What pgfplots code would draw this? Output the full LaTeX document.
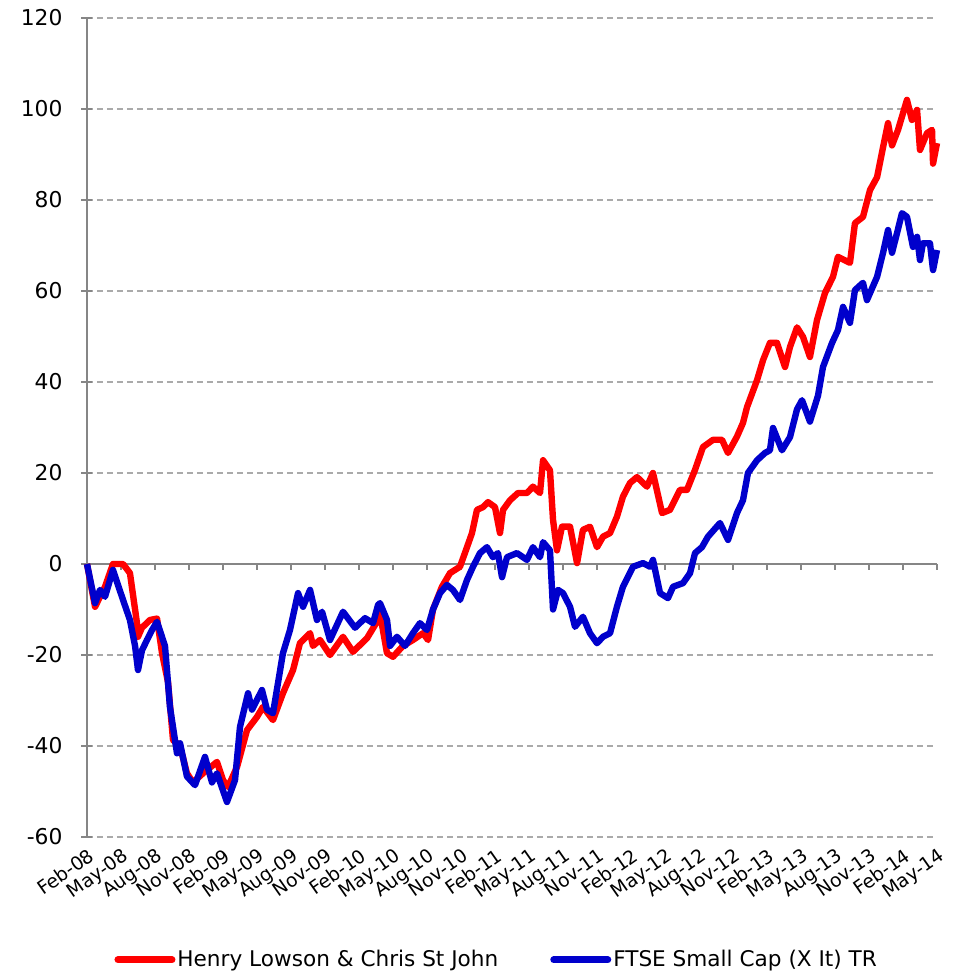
\documentclass[border=0pt]{standalone}
\usepackage{pgfplots}
\pgfplotsset{compat=1.18}
\usepackage{fontspec}
\setmainfont{DejaVu Sans}
\definecolor{myred}{RGB}{255,0,0}
\definecolor{myblue}{RGB}{0,0,204}
\definecolor{gridgray}{RGB}{170,170,170}
\definecolor{axgray}{RGB}{134,134,134}
\begin{document}
\begin{tikzpicture}
\begin{axis}[
  scale only axis, width=425pt, height=409.5pt,
  xmin=0, xmax=75, ymin=-60, ymax=120,
  axis lines*=left,
  x axis line style={draw=none},
  y axis line style={axgray, line width=0.8pt},
  xtick={0,3,...,75},
  xticklabels={Feb-08,May-08,Aug-08,Nov-08,Feb-09,May-09,Aug-09,Nov-09,Feb-10,May-10,Aug-10,Nov-10,Feb-11,May-11,Aug-11,Nov-11,Feb-12,May-12,Aug-12,Nov-12,Feb-13,May-13,Aug-13,Nov-13,Feb-14,May-14},
  xtick style={draw=none},
  xticklabel style={rotate=35, anchor=north east, font=\fontsize{9.4}{11}\selectfont, inner sep=1pt, yshift=-1pt},
  ytick={-60,-40,...,120},
  ytick style={axgray, line width=0.8pt},
  tick align=center, major tick length=5.5pt,
  yticklabel style={font=\fontsize{10.9}{12}\selectfont, xshift=-6pt},
  /pgf/number format/assume math mode=true,
  ymajorgrids,
  grid style={gridgray, dash pattern=on 3pt off 2pt, line width=0.7pt},
  legend columns=2,
  legend style={at={(0.482,-0.150)}, anchor=center, draw=none, font=\fontsize{10.8}{12}\selectfont,
    nodes={inner xsep=1pt},
    /tikz/every even column/.append style={column sep=25pt}, inner sep=0pt},
  legend image code/.code={\draw[#1, line width=3.5pt, line cap=round] (0pt,0pt) -- (27pt,0pt);},
  clip=false,
]
\draw[axgray, line width=0.8pt] (axis cs:0,0) -- (axis cs:75,0);
\draw[axgray, line width=0.8pt] (axis cs:3,0) -- (axis cs:3,-1.3) (axis cs:6,0) -- (axis cs:6,-1.3)
 (axis cs:9,0) -- (axis cs:9,-1.3) (axis cs:12,0) -- (axis cs:12,-1.3) (axis cs:15,0) -- (axis cs:15,-1.3)
 (axis cs:18,0) -- (axis cs:18,-1.3) (axis cs:21,0) -- (axis cs:21,-1.3) (axis cs:24,0) -- (axis cs:24,-1.3)
 (axis cs:27,0) -- (axis cs:27,-1.3) (axis cs:30,0) -- (axis cs:30,-1.3) (axis cs:33,0) -- (axis cs:33,-1.3)
 (axis cs:36,0) -- (axis cs:36,-1.3) (axis cs:39,0) -- (axis cs:39,-1.3) (axis cs:42,0) -- (axis cs:42,-1.3)
 (axis cs:45,0) -- (axis cs:45,-1.3) (axis cs:48,0) -- (axis cs:48,-1.3) (axis cs:51,0) -- (axis cs:51,-1.3)
 (axis cs:54,0) -- (axis cs:54,-1.3) (axis cs:57,0) -- (axis cs:57,-1.3) (axis cs:60,0) -- (axis cs:60,-1.3)
 (axis cs:63,0) -- (axis cs:63,-1.3) (axis cs:66,0) -- (axis cs:66,-1.3) (axis cs:69,0) -- (axis cs:69,-1.3)
 (axis cs:72,0) -- (axis cs:72,-1.3) (axis cs:75,0) -- (axis cs:75,-1.3);
\addplot[myred, line width=3.2pt, line join=round] coordinates {
(0,0) (0.71,-9.4) (1.59,-5) (2.29,0) (3.18,0) (3.79,-2) (4.41,-13) (4.50,-16) (4.85,-14)
(5.56,-12.3) (6.18,-12) (6.62,-19.6) (7.15,-26) (7.59,-38.7) (8.21,-40) (8.82,-46) (9.35,-48)
(10.24,-46) (11.47,-43.5) (12.00,-47.5) (12.44,-49) (13.24,-44.6) (14.12,-36.5) (15.00,-33.6)
(15.53,-31.4) (16.41,-34.3) (17.29,-28.4) (18.18,-23.3) (18.79,-17.4) (19.68,-15.2) (19.94,-18)
(20.56,-16.7) (21.44,-20) (22.59,-16) (23.47,-19.3) (24.71,-16.3) (25.68,-12.3) (25.85,-10.8)
(26.47,-19.6) (27.00,-20.4) (27.88,-18) (28.76,-16.7) (29.65,-15.2) (30.09,-16.7) (30.53,-10)
(31.32,-5) (32.03,-2) (32.91,-0.6) (33.53,3.7) (33.97,6.8) (34.41,11.9) (34.94,12.5) (35.38,13.6)
(36.00,12.5) (36.44,6.8) (36.71,11.9) (37.32,14) (38.03,15.6) (38.82,15.6) (39.35,17) (39.97,15.6)
(40.24,22.8) (40.85,20.6) (41.12,9.7) (41.47,3) (41.91,8.2) (42.62,8.2) (43.24,0.2) (43.76,7.5)
(44.38,8.2) (45.00,3.7) (45.53,6) (46.15,6.8) (46.76,10.4) (47.29,14.8) (47.91,17.8) (48.53,19.1)
(49.41,17) (49.94,20) (50.74,11.2) (51.44,11.9) (52.32,16.3) (52.94,16.3) (53.65,20.7) (54.35,25.7)
(55.24,27.3) (56.03,27.3) (56.56,24.4) (57.35,28) (57.88,31) (58.24,34.5) (59.12,40.4) (59.65,44.8)
(60.26,48.6) (60.88,48.6) (61.59,43.3) (62.03,47.7) (62.65,52) (63.18,49.9) (63.79,45.5) (64.41,53.6)
(65.12,59.6) (65.82,63.1) (66.26,67.5) (67.32,66.2) (67.76,74.9) (68.47,76.3) (69.09,82.2) (69.71,85)
(70.24,91.6) (70.68,96.9) (71.03,92) (71.56,95.4) (72.35,102) (72.79,97.6) (73.24,99.8) (73.50,91)
(74.12,94.7) (74.56,95.4) (74.65,88) (75.00,92.5)
};
\addlegendentry{Henry Lowson \& Chris St John}
\addplot[myblue, line width=3.2pt, line join=round] coordinates {
(0,0) (0.71,-8.6) (1.15,-5.7) (1.59,-7.2) (2.29,-1.3) (3.18,-7.9) (3.79,-12.3) (4.24,-18) (4.50,-23.3)
(4.85,-19) (5.29,-16.7) (5.74,-14.5) (6.18,-12.7) (6.88,-18) (7.32,-31.4) (7.94,-41.6) (8.21,-39.4)
(8.82,-46.7) (9.53,-48.6) (10.41,-42.4) (11.03,-48) (11.47,-46) (12.35,-52.3) (13.06,-47.5) (13.50,-35.8)
(14.21,-28.4) (14.56,-32) (15.44,-27.7) (15.88,-32) (16.41,-32.8) (17.29,-19.6) (17.91,-14.5) (18.62,-6.4)
(19.06,-9.4) (19.68,-5.7) (20.29,-12.3) (20.74,-10.5) (21.44,-16.7) (22.59,-10.5) (23.65,-14) (24.53,-11.9)
(25.24,-13) (25.68,-9) (25.85,-8.6) (26.47,-12.3) (26.74,-18) (27.35,-16) (28.06,-18) (28.76,-15.2)
(29.38,-13) (30.00,-14.5) (30.53,-10) (31.15,-6.4) (31.76,-4.6) (32.29,-5.7) (32.91,-7.9) (33.53,-3.5)
(34.06,-0.6) (34.68,2.4) (35.29,3.7) (35.82,1.5) (36.26,2.4) (36.62,-2.9) (37.06,1.5) (37.94,2.4)
(38.82,0.9) (39.35,3.7) (39.97,1.5) (40.24,4.8) (40.85,3) (41.12,-10) (41.56,-5.7) (42.00,-6.4)
(42.62,-9.4) (43.06,-13.8) (43.76,-11.6) (44.38,-15.2) (45.00,-17.4) (45.53,-16) (46.15,-15.2) (46.76,-9.4)
(47.29,-5) (48.18,-0.6) (49.06,0.2) (49.68,-0.6) (49.94,0.9) (50.56,-6.4) (51.26,-7.5) (51.71,-5)
(52.59,-4.2) (53.21,-2) (53.65,2.4) (54.26,3.7) (54.79,6) (55.85,9) (56.56,5.3) (57.35,11.2)
(57.88,14) (58.32,20) (59.12,22.8) (59.82,24.4) (60.26,25) (60.53,29.9) (61.32,25) (62.03,27.9)
(62.65,34) (63.09,36) (63.79,31.3) (64.50,37) (64.94,43.3) (65.74,48.6) (66.26,51.4) (66.71,56.5)
(67.32,53) (67.76,60.2) (68.47,61.8) (68.82,58) (69.71,63.1) (70.24,68.4) (70.68,73.4) (71.03,68.4)
(71.47,72.7) (71.91,77.1) (72.35,76.3) (72.88,69.7) (73.24,71.9) (73.50,66.8) (73.76,70.5) (74.38,70.5)
(74.65,64.6) (75.00,69)
};
\addlegendentry{FTSE Small Cap (X It) TR}
\end{axis}
\path (current axis.south west) ++(-43.5pt,-69pt) rectangle ++(476.5pt,487.5pt);
\end{tikzpicture}
\end{document}
